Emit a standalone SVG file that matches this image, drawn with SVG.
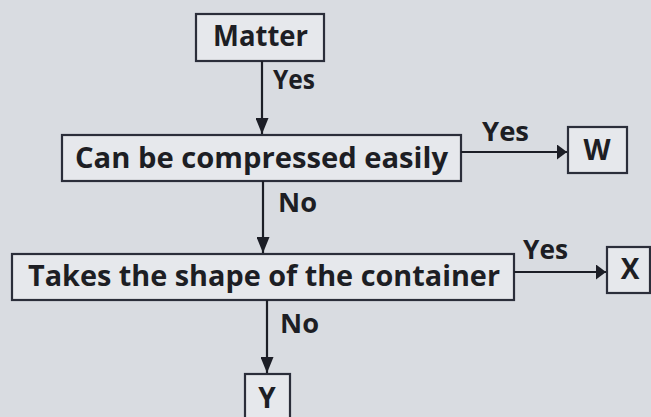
<svg xmlns="http://www.w3.org/2000/svg" width="651" height="417" viewBox="0 0 651 417">
<defs>
<marker id="ah" viewBox="0 0 10 10" refX="10" refY="5" markerWidth="10" markerHeight="15" markerUnits="userSpaceOnUse" orient="auto" preserveAspectRatio="none">
<path d="M0,0 L10,5 L0,10 Z" fill="#1c1e26"/>
</marker>
<marker id="av" viewBox="0 0 10 10" refX="10" refY="5" markerWidth="16" markerHeight="13" markerUnits="userSpaceOnUse" orient="auto" preserveAspectRatio="none">
<path d="M0,0 L10,5 L0,10 Z" fill="#1c1e26"/>
</marker>
<style>
.box{fill:#e6e8ec;stroke:#2b2e3a;stroke-width:2.2}
.t{font-family:"Open Sans","DejaVu Sans",sans-serif;font-weight:700;font-size:28px;fill:#1d1e24}
.lbl{font-family:"Open Sans","DejaVu Sans",sans-serif;font-weight:700;font-size:26px;fill:#1d1e24}
.ln{stroke:#1c1e26;stroke-width:2.2;fill:none}
</style>
</defs>
<rect width="651" height="417" fill="#d9dce1"/>
<g id="matter">
<rect class="box" x="196" y="14" width="128" height="47"/>
<text class="t" x="213" y="46" textLength="95" lengthAdjust="spacingAndGlyphs">Matter</text>
</g>
<g id="compress">
<rect class="box" x="62" y="135" width="399" height="46"/>
<text class="t" x="75" y="168" textLength="373" lengthAdjust="spacingAndGlyphs">Can be compressed easily</text>
</g>
<g id="w">
<rect class="box" x="568" y="127" width="59" height="46"/>
<text class="t" x="597" y="160" text-anchor="middle">W</text>
</g>
<g id="shape">
<rect class="box" x="12" y="254" width="502" height="46"/>
<text class="t" x="28" y="286" textLength="472" lengthAdjust="spacingAndGlyphs">Takes the shape of the container</text>
</g>
<g id="x">
<rect class="box" x="607" y="247" width="43" height="46"/>
<text class="t" x="630" y="279" text-anchor="middle">X</text>
</g>
<g id="y">
<rect class="box" x="245" y="374" width="45" height="60"/>
<text class="t" x="267" y="408" text-anchor="middle">Y</text>
</g>
<g id="connectors">
<line class="ln" x1="262" y1="61" x2="262" y2="134" marker-end="url(#av)"/>
<text class="lbl" x="273" y="89" textLength="42" lengthAdjust="spacingAndGlyphs">Yes</text>
<line class="ln" x1="461" y1="152" x2="567" y2="152" marker-end="url(#ah)"/>
<text class="lbl" x="482" y="141" textLength="47" lengthAdjust="spacingAndGlyphs">Yes</text>
<line class="ln" x1="263" y1="181" x2="263" y2="253" marker-end="url(#av)"/>
<text class="lbl" x="278" y="212" textLength="39" lengthAdjust="spacingAndGlyphs">No</text>
<line class="ln" x1="514" y1="272" x2="606" y2="272" marker-end="url(#ah)"/>
<text class="lbl" x="523" y="259" textLength="45" lengthAdjust="spacingAndGlyphs">Yes</text>
<line class="ln" x1="267" y1="300" x2="267" y2="373" marker-end="url(#av)"/>
<text class="lbl" x="280" y="333" textLength="39" lengthAdjust="spacingAndGlyphs">No</text>
</g>
</svg>
